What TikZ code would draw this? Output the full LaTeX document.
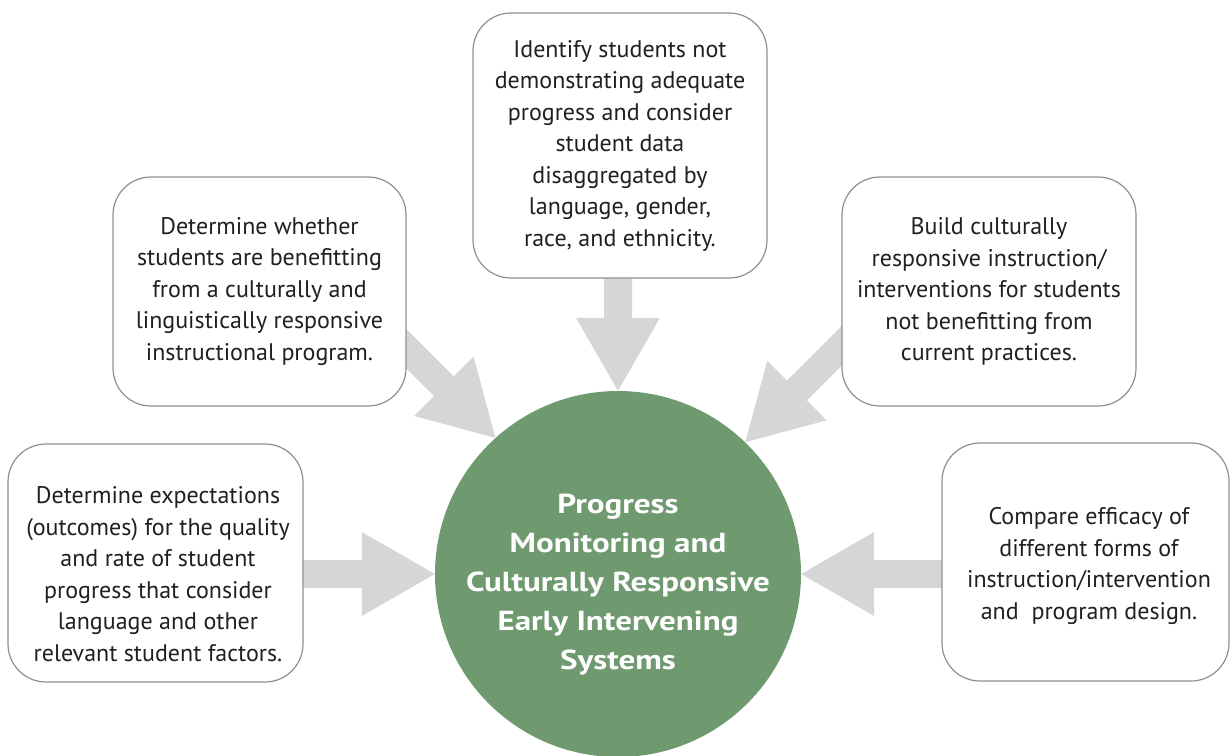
\documentclass[tikz,border=0pt]{standalone}
\usepackage{fontspec}
\setmainfont{PT Sans}
\newfontfamily\hubfont[FakeStretch=1.2]{PT Sans Bold}
\usetikzlibrary{backgrounds,calc}
\definecolor{arrowgray}{HTML}{D5D6D8}
\definecolor{hubgreen}{HTML}{6F9A70}
\definecolor{boxline}{HTML}{8E8F91}
\definecolor{txt}{HTML}{231F20}
\newcommand\blockarr[3]{\fill[arrowgray,shift={(#1)},rotate=#2] (0,0) -- (-73,42) -- (-73,14) -- (-#3,14) -- (-#3,-14) -- (-73,-14) -- (-73,-42) -- cycle;}
\begin{document}
\begin{tikzpicture}[x=1pt,y=-1pt,
  box/.style={draw=boxline, line width=1.2pt, fill=white, rounded corners=38pt,
    align=center, text=txt, inner sep=0pt,
    font=\fontsize{24}{31.5}\selectfont},
  boxtext/.style={align=center, text=txt, inner sep=0pt, font=\fontsize{24}{31.5}\selectfont},
  hubtext/.style={align=center, text=white, inner sep=0pt, font=\fontsize{27.5}{39}\hubfont}]
\useasboundingbox (0,0) rectangle (1231,755);

\node[circle, fill=hubgreen, minimum size=366pt, inner sep=0pt] (hub) at (618,574) {};
\node[hubtext] (hubt) at (618,585) {Progress\\Monitoring and\\Culturally Responsive\\Early Intervening\\Systems};

\node[box, minimum width=294pt, minimum height=265pt] (top) at (620,145.5) {Identify students not\\demonstrating adequate\\progress and consider\\student data\\disaggregated by\\language, gender,\\race, and ethnicity.};
\node[box, minimum width=293pt, minimum height=229pt] (ul) at (259.5,291.5) {Determine whether\\students are benefitting\\from a culturally and\\linguistically responsive\\instructional program.};
\node[box, minimum width=294pt, minimum height=229pt] (ur) at (989,291.5) {Build culturally\\responsive instruction/\\interventions for students\\not benefitting from\\current practices.};
\node[box, minimum width=295pt, minimum height=238pt] (ll) at (155.5,563) {};
\node[boxtext] (llt) at (158,574) {Determine expectations\\(outcomes) for the quality\\and rate of student\\progress that consider\\language and other\\relevant student factors.};
\node[box, minimum width=287pt, minimum height=238pt] (lr) at (1085.5,562) {};
\node[boxtext] (lrt) at (1089,566) {Compare efficacy of\\different forms of\\instruction/intervention\\and\ \ program design.};

\begin{scope}[on background layer]
\blockarr{hub.90}{-90}{125}
\blockarr{hub.180}{0}{142}
\blockarr{hub.0}{180}{150}
\blockarr{hub.132}{-45}{160}
\blockarr{hub.46}{-135}{160}
\end{scope}
\end{tikzpicture}
\end{document}
